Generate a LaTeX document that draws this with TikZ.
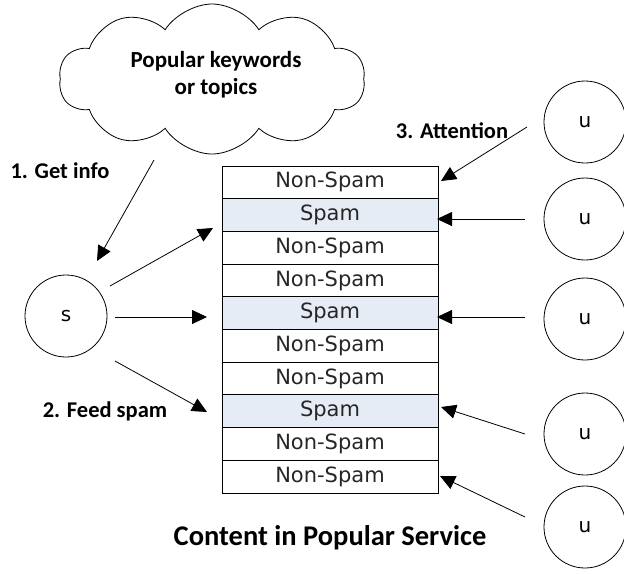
\documentclass[tikz,border=0pt]{standalone}
\usepackage{fontspec}
\setmainfont{DejaVu Sans}
\newfontfamily\lblfont{Carlito}[BoldFont={Carlito Bold}]
\usetikzlibrary{shapes.symbols,arrows.meta}
\definecolor{spamblue}{RGB}{230,236,246}
\tikzset{
  arr/.style={draw=black,line width=0.8pt,-{Triangle[length=15pt,width=14pt]}},
  cell/.style={draw=black,line width=0.9pt,minimum width=216pt,minimum height=32.7pt,inner sep=0pt,font=\fontsize{21}{24}\selectfont,text=black!85},
  spamcell/.style={cell,fill=spamblue},
  agent/.style={circle,draw=black,line width=0.8pt,minimum size=82pt,inner sep=0pt,font=\fontsize{20}{24}\selectfont},
  lbl/.style={font=\lblfont\bfseries\fontsize{22.5}{27}\selectfont,inner sep=0pt},
}
\begin{document}
\begin{tikzpicture}[x=1pt,y=-1pt]
\useasboundingbox (0,0) rectangle (624,574);
% cloud
\node[cloud,draw=black,line width=0.8pt,cloud puffs=10,cloud puff arc=115,aspect=2.3,
  minimum width=306pt,minimum height=150pt,inner sep=0pt] (cloud) at (212,79) {};
\node[lbl,align=center,font=\lblfont\bfseries\fontsize{23}{27}\selectfont] (ctext) at (216,75) {Popular keywords\\or topics};
% table
\foreach \i/\t/\s in {1/Non-Spam/cell,2/Spam/spamcell,3/Non-Spam/cell,4/Non-Spam/cell,5/Spam/spamcell,6/Non-Spam/cell,7/Non-Spam/cell,8/Spam/spamcell,9/Non-Spam/cell,10/Non-Spam/cell}
  \node[\s] (r\i) at (330,{166+32.7*(\i-0.5)}) {\t};
% agents
\node[agent] (s) at (66,316) {s};
\node[agent] (u1) at (585,122) {u};
\node[agent] (u2) at (585,219) {u};
\node[agent] (u3) at (585,319) {u};
\node[agent] (u4) at (585,434) {u};
\node[agent] (u5) at (585,527) {u};
% labels
\node[lbl] (l1) at (60,171) {1. Get info};
\node[lbl] (l2) at (105,411) {2. Feed spam};
\node[lbl] (l3) at (452,131) {3. Attention};
\node[lbl,font=\lblfont\bfseries\fontsize{28.5}{32}\selectfont] (title) at (330,538) {Content in Popular Service};
% connector endpoints
\coordinate (g1) at (154,160); \coordinate (g2) at (97,261);
\coordinate (sa) at (110,286); \coordinate (ta) at (213,228);
\coordinate (sb) at (115,317); \coordinate (tb) at (207,317);
\coordinate (sc) at (115,361); \coordinate (tc) at (207,412);
\coordinate (ua) at (527,127); \coordinate (va) at (441,181);
\coordinate (ub) at (525,219); \coordinate (vb) at (437,219);
\coordinate (uc) at (525,317); \coordinate (vc) at (437,317);
\coordinate (ud) at (525,434); \coordinate (vd) at (441,407);
\coordinate (ue) at (525,517); \coordinate (ve) at (440,476);
\draw[arr] (g1) -- (g2);
\draw[arr] (sa) -- (ta);
\draw[arr] (sb) -- (tb);
\draw[arr] (sc) -- (tc);
\draw[arr] (ua) -- (va);
\draw[arr] (ub) -- (vb);
\draw[arr] (uc) -- (vc);
\draw[arr] (ud) -- (vd);
\draw[arr] (ue) -- (ve);
\end{tikzpicture}
\end{document}
